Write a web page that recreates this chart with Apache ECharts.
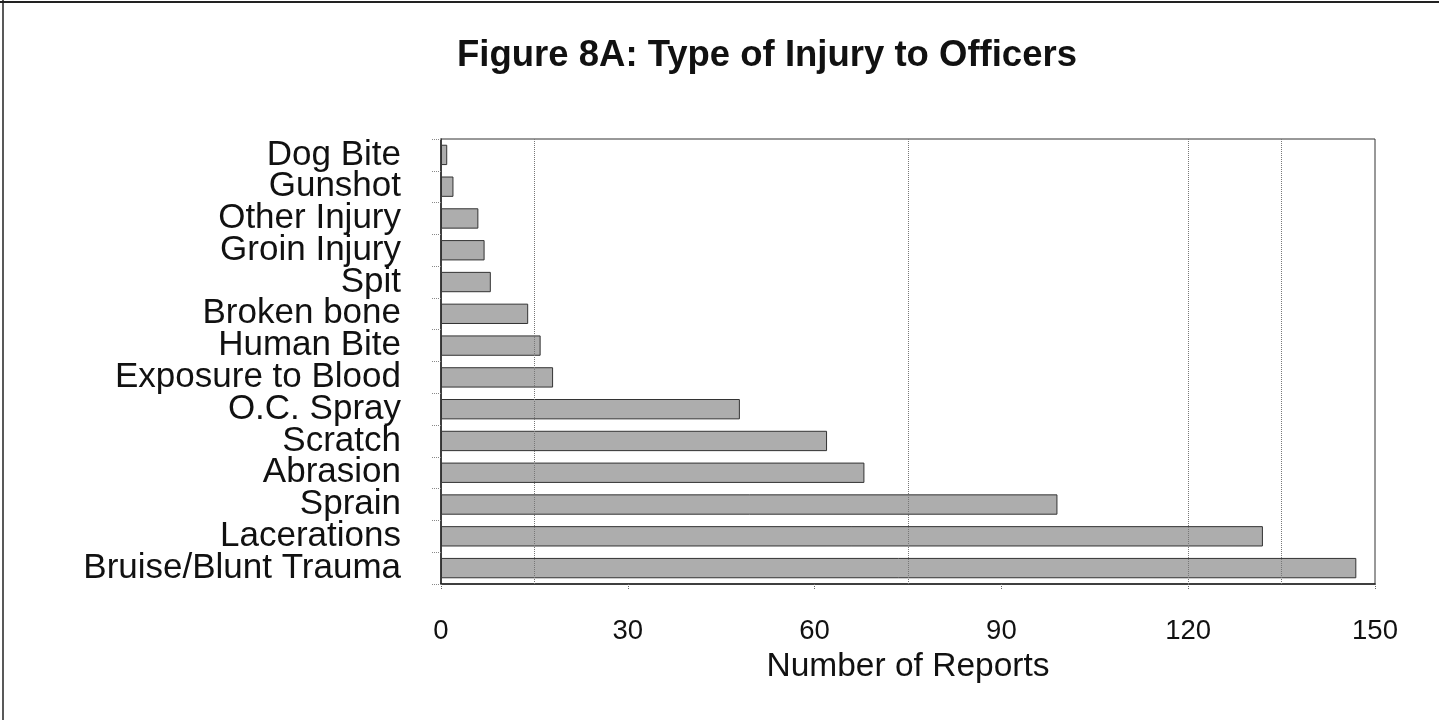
<!DOCTYPE html>
<html>
<head>
<meta charset="utf-8">
<script src="https://cdn.jsdelivr.net/npm/echarts@6/dist/echarts.min.js"></script>
<style>
html,body{margin:0;padding:0;background:#fff;}
#chart{width:1439px;height:720px;}
</style>
</head>
<body>
<div id="chart"></div>
<script>
const titleText = 'Figure 8A: Type of Injury to Officers';
const categories = ['Dog Bite','Gunshot','Other Injury','Groin Injury','Spit','Broken bone','Human Bite','Exposure to Blood','O.C. Spray','Scratch','Abrasion','Sprain','Lacerations','Bruise/Blunt Trauma'];
const reports = [1,2,6,7,8,14,16,18,48,62,68,99,132,147];
const xTicks = [0,30,60,90,120,150];
const gridValues = [15,75,120,135];
const xAxisName = 'Number of Reports';

const chart = echarts.init(document.getElementById('chart'));
const font = 'Liberation Sans, Arial, sans-serif';
chart.setOption({
  backgroundColor:'#fff',
  animation:false,
  title:{text:titleText,left:762,top:32,textAlign:'center',
    textStyle:{fontFamily:font,fontSize:36.5,fontWeight:'bold',color:'#111'}},
  grid:{left:441,right:64,top:139,bottom:136,show:true,borderColor:'#333',borderWidth:1,backgroundColor:'transparent'},
  xAxis:{type:'value',min:xTicks[0],max:xTicks[xTicks.length-1],interval:30,
    name:xAxisName,nameLocation:'middle',nameGap:60,
    nameTextStyle:{fontFamily:font,fontSize:33.5,color:'#111'},
    axisLine:{show:true,lineStyle:{color:'#222',width:1.5}},
    axisTick:{show:true,length:5,lineStyle:{color:'#666',type:'dotted'}},
    axisLabel:{fontFamily:font,fontSize:27.5,color:'#111',margin:33},
    splitLine:{show:false}},
  yAxis:{type:'category',data:categories,inverse:true,
    axisLine:{show:true,lineStyle:{color:'#222',width:1.5}},
    axisTick:{show:true,length:10,lineStyle:{color:'#888',type:'dotted'}},
    axisLabel:{fontFamily:font,fontSize:35,color:'#111',margin:40,interval:0}},
  graphic:[
    {type:'line',shape:{x1:0,y1:2,x2:1439,y2:2},style:{stroke:'#222',lineWidth:2}},
    {type:'line',shape:{x1:3,y1:0,x2:3,y2:720},style:{stroke:'#222',lineWidth:1.5}}
  ],
  series:[{
    type:'bar',data:reports,barCategoryGap:'36%',
    itemStyle:{color:'#adadad',borderColor:'#333',borderWidth:1},
    markLine:{silent:true,symbol:'none',label:{show:false},
      lineStyle:{color:'#777',type:'dotted',width:1},
      data:gridValues.map(v=>({xAxis:v}))}
  }]
});
</script>
</body>
</html>
